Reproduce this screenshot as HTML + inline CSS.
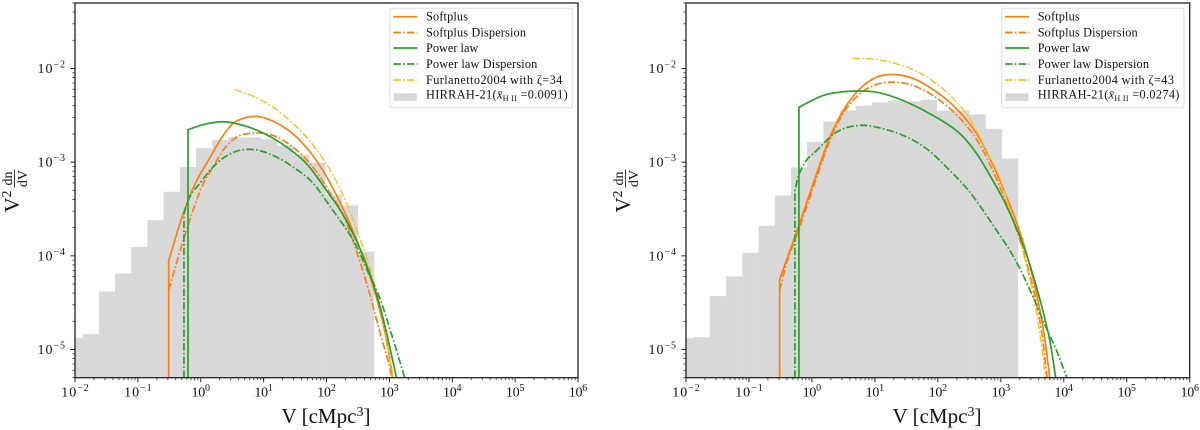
<!DOCTYPE html>
<html>
<head>
<meta charset="utf-8">
<title>Ionized bubble size distribution</title>
<style>
html,body{margin:0;padding:0;background:#fff;width:1200px;height:430px;overflow:hidden}
svg{display:block}
text{font-family:"Liberation Serif","Noto Serif CJK SC",serif;fill:#111}
</style>
</head>
<body>
<svg id="chart" xmlns="http://www.w3.org/2000/svg" width="1200" height="430" viewBox="0 0 1200 430"></svg>
<script>
// ---------- data ----------
const histEdges = [0.00732,0.01324,0.02395,0.04335,0.0784,0.1419,0.2568,0.4645,0.8404,1.521,2.751,4.977,9.006,16.29,29.48,53.33,96.5,174.6,315.9,571.5,1034,1871];
const leftHist = [1.32e-5,1.46e-5,4.17e-5,6.49e-5,1.24e-4,2.40e-4,4.83e-4,8.85e-4,1.41e-3,1.73e-3,1.84e-3,1.84e-3,1.75e-3,1.51e-3,1.20e-3,9.86e-4,4.49e-4,3.45e-4,1.11e-4];
const rightHist = [1.32e-5,1.35e-5,3.72e-5,6.03e-5,1.08e-4,2.09e-4,4.41e-4,8.78e-4,1.65e-3,2.72e-3,3.56e-3,4.0e-3,4.34e-3,4.55e-3,4.45e-3,4.63e-3,3.56e-3,3.56e-3,3.23e-3,2.27e-3,1.09e-3];

const leftSoftplusV = [0.309,0.527,0.752,1.40,2.17,3.25,4.69,7.28,16.3,37.8,87.7,182,316,527,706,946,1137];
const leftSoftplusY = [8.9e-5,2.84e-4,5.24e-4,1.12e-3,1.84e-3,2.59e-3,2.92e-3,3.08e-3,2.61e-3,1.71e-3,8.15e-4,3.21e-4,1.36e-4,5.2e-5,2.61e-5,1.05e-5,4.96e-6];
const leftSoftDispV = [0.309,0.389,0.527,0.752,1.03,1.56,2.25,3.72,6.76,14.1,29.2,60.8,126,163,316,430,582,752,1019,1096];
const leftSoftDispY = [4.28e-5,7.34e-5,1.46e-4,3.05e-4,5.41e-4,8.85e-4,1.33e-3,1.85e-3,2.04e-3,1.93e-3,1.45e-3,8.85e-4,4.24e-4,3.21e-4,1.01e-4,5.2e-5,2.49e-5,1.31e-5,6.28e-6,4.96e-6];
const leftPowerV = [0.627,1.10,2.28,4.74,11.2,23.2,48.3,100,182,254,361,552,752,1019,1300];
const leftPowerY = [2.22e-3,2.52e-3,2.70e-3,2.47e-3,1.96e-3,1.45e-3,9.6e-4,4.99e-4,2.77e-4,1.82e-4,1.09e-4,5.07e-5,2.49e-5,1.05e-5,4.96e-6];
const leftPowerDispV = [0.541,0.632,0.970,1.56,3.10,6.44,14.1,29.6,61.5,117,174,283,460,706,1084,1762];
const leftPowerDispY = [2.84e-4,3.90e-4,5.93e-4,8.85e-4,1.25e-3,1.37e-3,1.18e-3,8.85e-4,5.93e-4,3.29e-4,2.27e-4,1.36e-4,6.7e-5,3.51e-5,1.45e-5,4.96e-6];
const leftFurlV = [3.50,6.84,14.2,29.6,61.5,128,209,319,490,706,946,1137];
const leftFurlY = [5.93e-3,5.06e-3,3.86e-3,2.57e-3,1.51e-3,7.21e-4,3.62e-4,1.73e-4,7.34e-5,2.96e-5,1.03e-5,4.96e-6];

const rightSoftplusV = [0.307,0.571,1.19,1.93,3.14,5.78,10.6,19.5,40.6,83.3,155,249,411,746,1230,2559,3690,4989,6000];
const rightSoftplusY = [5.6e-5,1.80e-4,7.57e-4,1.85e-3,3.56e-3,6.07e-3,8.07e-3,8.63e-3,7.82e-3,5.97e-3,4.34e-3,3.15e-3,2.02e-3,9.44e-4,4.31e-4,1.06e-4,3.97e-5,1.31e-5,4.96e-6];
const rightSoftDispV = [0.307,0.398,0.537,1.19,1.93,3.14,5.78,10.6,19.5,40.6,83.3,155,249,411,746,1230,2559,3690,4645,5430];
const rightSoftDispY = [4.28e-5,8.5e-5,1.46e-4,6.87e-4,1.71e-3,3.31e-3,5.37e-3,6.75e-3,7.14e-3,6.59e-3,5.15e-3,3.74e-3,2.72e-3,1.75e-3,8.15e-4,3.62e-4,8.5e-5,3.10e-5,1.25e-5,4.96e-6];
const rightPowerV = [0.622,1.51,4.53,10.6,28.1,74.6,129,223,411,746,1076,1884,2884,3908,4989,6000,7464];
const rightPowerY = [3.86e-3,5.15e-3,5.73e-3,5.58e-3,4.55e-3,3.29e-3,2.65e-3,2.02e-3,1.24e-3,6.38e-4,4.10e-4,1.78e-4,8.09e-5,4.06e-5,2.15e-5,1.25e-5,4.96e-6];
const rightPowerDispV = [0.537,0.593,0.728,1.19,2.47,5.78,13.6,28.1,66.2,155,322,524,855,1390,2004,3069,5309,7656,11272];
const rightPowerDispY = [4.99e-4,6.65e-4,9.23e-4,1.33e-3,2.09e-3,2.47e-3,2.27e-3,1.93e-3,1.39e-3,8.15e-4,4.79e-4,3.05e-4,1.87e-4,1.14e-4,7.34e-5,3.97e-5,1.68e-5,9.8e-6,4.96e-6];
const rightFurlV = [4.43,10.6,22.1,45.9,95.3,175,360,622,964,1442,1884,2559,3467,4426,5176];
const rightFurlY = [1.29e-2,1.25e-2,1.12e-2,9.35e-3,6.87e-3,4.79e-3,2.59e-3,1.24e-3,6.87e-4,2.90e-4,1.78e-4,7.9e-5,3.10e-5,1.11e-5,4.96e-6];

const xTickExponents = [-2,-1,0,1,2,3,4,5,6];
const yTickExponents = [-5,-4,-3,-2];
const leftZeta = '34';
const rightZeta = '43';
const leftFraction = '0.0091';
const rightFraction = '0.0274';

// ---------- layout ----------
const NS = 'http://www.w3.org/2000/svg';
const svg = document.getElementById('chart');
const xMinLog = -2, xMaxLog = 6, yMin = 5e-6, yMax = 5e-2;
const plotTop = 3, plotBottom = 377.7;
const ORANGE = '#ff7f0e', GREEN = '#2ca02c', GOLD = '#ffbf1f', GRAY = '#d8d8d8';
const DASH = '7.5 2.2 1.7 2.2';

function el(tag, attrs, parent) {
  const e = document.createElementNS(NS, tag);
  for (const k in attrs) e.setAttribute(k, attrs[k]);
  (parent || svg).appendChild(e);
  return e;
}

// cubic Hermite through points ordered in x, with non-uniform tangents
function spline(pts) {
  const n = pts.length, m = [];
  for (let i = 0; i < n; i++) {
    if (i === 0) { m.push((pts[1][1] - pts[0][1]) / (pts[1][0] - pts[0][0])); continue; }
    if (i === n - 1) { m.push((pts[i][1] - pts[i - 1][1]) / (pts[i][0] - pts[i - 1][0])); continue; }
    const h0 = pts[i][0] - pts[i - 1][0], h1 = pts[i + 1][0] - pts[i][0];
    const d0 = (pts[i][1] - pts[i - 1][1]) / h0, d1 = (pts[i + 1][1] - pts[i][1]) / h1;
    m.push((h1 * d0 + h0 * d1) / (h0 + h1));
  }
  let d = 'M' + pts[0][0].toFixed(2) + ' ' + pts[0][1].toFixed(2);
  for (let i = 0; i < n - 1; i++) {
    const h = (pts[i + 1][0] - pts[i][0]) / 3;
    d += 'C' + (pts[i][0] + h).toFixed(2) + ' ' + (pts[i][1] + m[i] * h).toFixed(2) + ' ' +
         (pts[i + 1][0] - h).toFixed(2) + ' ' + (pts[i + 1][1] - m[i + 1] * h).toFixed(2) + ' ' +
         pts[i + 1][0].toFixed(2) + ' ' + pts[i + 1][1].toFixed(2);
  }
  return d;
}

function drawPanel(cfg) {
  const g = el('g', {});
  
  
  const L = cfg.left, R = cfg.right;
  const xPos = v => L + (Math.log10(v) - xMinLog) / (xMaxLog - xMinLog) * (R - L);
  const yPos = v => plotBottom - (Math.log10(v) - Math.log10(yMin)) / (Math.log10(yMax) - Math.log10(yMin)) * (plotBottom - plotTop);

  // histogram
  const histGroup = el('g', {}, g);
  
  
  cfg.hist.forEach((v, i) => {
    const x0 = Math.max(xPos(histEdges[i]), L), x1 = xPos(histEdges[i + 1]);
    const y = yPos(v);
    const bar = el('rect', {x: x0, y: y, width: x1 - x0 + 0.15, height: plotBottom - y, fill: GRAY}, histGroup);
    
    
  });

  // curves
  cfg.curves.forEach(c => {
    const pts = c.v.map((v, i) => [xPos(v), yPos(c.y[i])]);
    let d = spline(pts);
    if (c.drop) d = 'M' + pts[0][0].toFixed(2) + ' ' + plotBottom + 'L' + pts[0][0].toFixed(2) + ' ' + pts[0][1].toFixed(2) + d.replace(/^M[^C]*/, '');
    const attrs = {d: d, fill: 'none', stroke: c.color, 'stroke-width': c.width || 1.7};
    if (c.dash) attrs['stroke-dasharray'] = DASH;
    const path = el('path', attrs, g);
    
    
  });

  // spines
  const frame = el('rect', {x: L, y: plotTop, width: R - L, height: plotBottom - plotTop, fill: 'none', stroke: '#222', 'stroke-width': 1.3}, g);
  
  

  // x ticks
  const xAxis = el('g', {}, g);
  
  
  xTickExponents.forEach(e => {
    const px = xPos(Math.pow(10, e));
    el('line', {x1: px, x2: px, y1: plotBottom, y2: plotBottom + 4.5, stroke: '#222', 'stroke-width': 1}, xAxis);
    if (e < 6) for (let m = 2; m < 10; m++) {
      const mx = xPos(m * Math.pow(10, e));
      el('line', {x1: mx, x2: mx, y1: plotBottom, y2: plotBottom + 2.5, stroke: '#333', 'stroke-width': 0.8}, xAxis);
    }
    const t = el('text', {x: px, y: 396.5, 'font-size': 14, 'text-anchor': 'middle', textLength: e < 0 ? 27.5 : 18.5, lengthAdjust: 'spacing'}, xAxis);
    
    
    t.appendChild(document.createTextNode('10'));
    const s = el('tspan', {dy: -5.5, 'font-size': 10}, t);
    s.textContent = (e < 0 ? '\u2212' : '') + Math.abs(e);
  });

  // y ticks
  const yAxis = el('g', {}, g);
  
  
  [-6].concat(yTickExponents).forEach(e => {
    for (let m = 1; m < 10; m++) {
      const val = m * Math.pow(10, e);
      if (val < yMin * 0.999 || val > yMax * 1.001) continue;
      const py = yPos(val);
      el('line', {x1: L - (m === 1 ? 4.5 : 2.5), x2: L, y1: py, y2: py, stroke: '#222', 'stroke-width': m === 1 ? 1 : 0.8}, yAxis);
    }
  });
  yTickExponents.forEach(e => {
    const t = el('text', {x: L - 10, y: yPos(Math.pow(10, e)) + 4.5, 'font-size': 14, 'text-anchor': 'end', textLength: 27.5, lengthAdjust: 'spacing'}, yAxis);
    
    
    t.appendChild(document.createTextNode('10'));
    const s = el('tspan', {dy: -5.5, 'font-size': 10}, t);
    s.textContent = '\u2212' + Math.abs(e);
  });

  // x title
  const xt = el('text', {x: L + 206.5, y: 423, 'font-size': 21, textLength: 89, lengthAdjust: 'spacing'}, g);
  
  
  xt.appendChild(document.createTextNode('V [cMpc'));
  const sup = el('tspan', {dy: -7, 'font-size': 14}, xt);
  sup.textContent = '3';
  const close = el('tspan', {dy: 7}, xt);
  close.textContent = ']';

  // y title
  const yt = el('g', {transform: 'translate(' + (L - 56) + ',212.5) rotate(-90)'}, g);
  
  
  const vv = el('text', {x: 0, y: 0, 'font-size': 21}, yt);
  vv.textContent = 'V';
  const two = el('text', {x: 15, y: -8, 'font-size': 14}, yt);
  two.textContent = '2';
  const dn = el('text', {x: 34, y: -7, 'font-size': 14, 'text-anchor': 'middle'}, yt);
  dn.textContent = 'dn';
  const dv = el('text', {x: 34, y: 8, 'font-size': 14, 'text-anchor': 'middle'}, yt);
  dv.textContent = 'dV';
  el('line', {x1: 25, x2: 43, y1: -4.5, y2: -4.5, stroke: '#111', 'stroke-width': 0.8}, yt);

  // legend
  const lg = el('g', {}, g);
  
  
  const bx = cfg.legendX;
  el('rect', {x: bx, y: 8.3, width: 182.3, height: 99.4, rx: 1.5, fill: '#fff', 'fill-opacity': 0.85, stroke: '#dcdcdc', 'stroke-width': 1}, lg);
  const hx0 = bx + 3.3, hx1 = bx + 27.3, tx = bx + 36;
  const rows = [
    {label: 'Softplus', len: 42, color: ORANGE, dash: false, y: 16.7, base: 20.5},
    {label: 'Softplus Dispersion', len: 100, color: ORANGE, dash: true, y: 32.5, base: 36.5},
    {label: 'Power law', len: 52.3, color: GREEN, dash: false, y: 48, base: 52},
    {label: 'Power law Dispersion', len: 111.3, color: GREEN, dash: true, y: 64, base: 68},
    {label: 'Furlanetto2004 with \u03B6=' + cfg.zeta, len: 136.3, color: GOLD, dash: true, y: 80, base: 84}
  ];
  rows.forEach(r => {
    const a = {x1: hx0, x2: hx1, y1: r.y, y2: r.y, stroke: r.color, 'stroke-width': 1.7};
    if (r.dash) a['stroke-dasharray'] = DASH;
    const h = el('line', a, lg);
    
    
    const t = el('text', {x: tx, y: r.base, 'font-size': 12.3, textLength: r.len, lengthAdjust: 'spacing'}, lg);
    
    
    t.textContent = r.label;
  });
  const patch = el('rect', {x: hx0 + 0.5, y: 93.3, width: 23, height: 7.7, fill: GRAY}, lg);
  
  
  const ht = el('text', {x: tx, y: 98.5, 'font-size': 12.3, textLength: 141.7, lengthAdjust: 'spacing'}, lg);
  
  
  ht.appendChild(document.createTextNode('HIRRAH-21('));
  const xbar = el('tspan', {'font-style': 'italic'}, ht);
  xbar.textContent = 'x\u0304';
  const sub = el('tspan', {dy: 2.5, 'font-size': 8}, ht);
  sub.textContent = 'H II';
  const rest = el('tspan', {dy: -2.5}, ht);
  rest.textContent = ' =' + cfg.fraction + ')';
}

drawPanel({
  name: 'left-panel', left: 75, right: 578, legendX: 390, zeta: leftZeta, fraction: leftFraction, hist: leftHist,
  curves: [
    {name: 'softplus-dispersion-curve', v: leftSoftDispV, y: leftSoftDispY, color: ORANGE, dash: true},
    {name: 'softplus-curve', v: leftSoftplusV, y: leftSoftplusY, color: ORANGE, drop: true},
    {name: 'furlanetto-curve', v: leftFurlV, y: leftFurlY, color: GOLD, dash: true, width: 1.4},
    {name: 'power-law-dispersion-curve', v: leftPowerDispV, y: leftPowerDispY, color: GREEN, dash: true, drop: true},
    {name: 'power-law-curve', v: leftPowerV, y: leftPowerY, color: GREEN, drop: true}
  ]
});
drawPanel({
  name: 'right-panel', left: 686, right: 1189.7, legendX: 1001.7, zeta: rightZeta, fraction: rightFraction, hist: rightHist,
  curves: [
    {name: 'softplus-dispersion-curve', v: rightSoftDispV, y: rightSoftDispY, color: ORANGE, dash: true},
    {name: 'softplus-curve', v: rightSoftplusV, y: rightSoftplusY, color: ORANGE, drop: true},
    {name: 'furlanetto-curve', v: rightFurlV, y: rightFurlY, color: GOLD, dash: true, width: 1.4},
    {name: 'power-law-dispersion-curve', v: rightPowerDispV, y: rightPowerDispY, color: GREEN, dash: true, drop: true},
    {name: 'power-law-curve', v: rightPowerV, y: rightPowerY, color: GREEN, drop: true}
  ]
});
</script>
</body>
</html>
